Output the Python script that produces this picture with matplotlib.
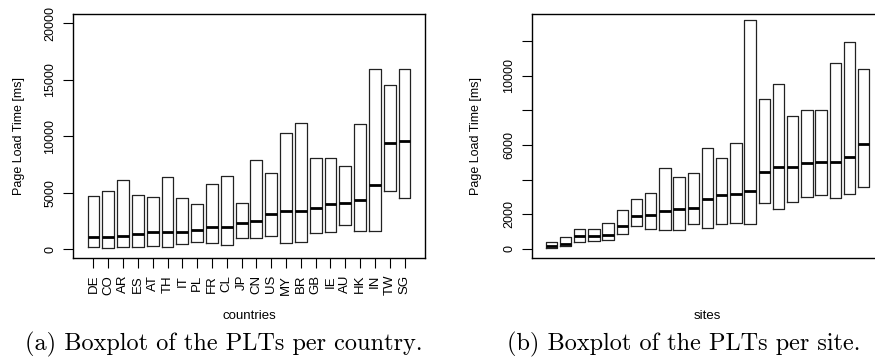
import matplotlib
matplotlib.use('Agg')
import matplotlib.pyplot as plt

# page load time boxes per country (q1, median, q3 in ms)
countries = ['DE', 'CO', 'AR', 'ES', 'AT', 'TH', 'IT', 'PL', 'FR', 'CL', 'JP',
             'CN', 'US', 'MY', 'BR', 'GB', 'IE', 'AU', 'HK', 'IN', 'TW', 'SG']
country_q1 = [240, 150, 240, 240, 325, 240, 443, 620, 560, 384, 1034,
              975, 1152, 560, 680, 1478, 1537, 2128, 1625, 1625, 5170, 4490]
country_med = [1064, 1090, 1210, 1360, 1507, 1507, 1566, 1684, 2010, 2010, 2335,
               2541, 3100, 3340, 3370, 3605, 4018, 4078, 4315, 5674, 9425, 9574]
country_q3 = [4725, 5170, 6090, 4815, 4610, 6383, 4520, 4018, 5762, 6442, 4107,
              7920, 6710, 10310, 11170, 8040, 8040, 7385, 11080, 15930, 14510, 15930]

# page load time boxes per site
site_q1 = [77, 154, 423, 481, 500, 885, 1327, 1134, 1115, 1077, 1442, 1230,
           1442, 1481, 1442, 2634, 2288, 2730, 2980, 3134, 2942, 3154, 3596]
site_med = [154, 288, 731, 769, 827, 1327, 1885, 1981, 2211, 2288, 2384, 2904,
            3096, 3154, 3365, 4423, 4730, 4730, 4961, 5000, 5038, 5288, 6057]
site_q3 = [386, 673, 1173, 1173, 1480, 2231, 2866, 3250, 4673, 4173, 4384, 5827,
           5269, 6134, 13210, 8654, 9538, 7654, 8000, 8000, 10712, 11923, 10365]

country_yticks = [0, 5000, 10000, 15000, 20000]
site_yticks = [0, 2000, 4000, 6000, 8000, 10000, 12000]
site_ytick_labels = ['0', '2000', '', '6000', '', '10000', '']

plt.rcParams['font.family'] = ['Liberation Sans', 'DejaVu Sans']


def make_stats(q1s, meds, q3s):
    return [dict(med=m, q1=a, q3=b, whislo=a, whishi=b, fliers=[])
            for a, m, b in zip(q1s, meds, q3s)]


def draw_boxes(ax, q1s, meds, q3s):
    ax.bxp(make_stats(q1s, meds, q3s), positions=range(1, len(meds) + 1),
           widths=0.8, showcaps=False, showfliers=False,
           boxprops=dict(color='#222222', linewidth=0.9),
           whiskerprops=dict(linewidth=0),
           medianprops=dict(color='black', linewidth=2.0))
    for s in ax.spines.values():
        s.set_linewidth(1.0)
    ax.tick_params(axis='both', length=7, width=0.8, labelsize=9, pad=5)
    ax.tick_params(axis='y', labelrotation=90)


fig = plt.figure(figsize=(8.75, 3.58), dpi=100)

# (a) per country
ax1 = fig.add_axes([73 / 875, 1 - 258.3 / 358, 352 / 875, 244.3 / 358])
draw_boxes(ax1, country_q1, country_med, country_q3)
ax1.set_xlim(-0.38, len(countries) + 1.38)
ax1.set_ylim(-800, 20800)
ax1.set_yticks(country_yticks)
ax1.set_yticklabels([str(v) for v in country_yticks])
for t in ax1.get_yticklabels():
    t.set_va('center')
ax1.set_xticks(range(1, len(countries) + 1))
ax1.set_xticklabels(countries, rotation=90, fontsize=9.5)
ax1.set_xlabel('countries', fontsize=9.5)
ax1.xaxis.set_label_coords(0.5, -0.235)
ax1.xaxis.label.set_va('center')
ax1.set_ylabel('Page Load Time [ms]', fontsize=9)
ax1.yaxis.set_label_coords((19 - 73) / 352, 0.5)
ax1.yaxis.label.set_va('center')

# (b) per site, right edge runs off the page as in the source
n_sites = len(site_med)
ax2 = fig.add_axes([531.7 / 875, 1 - 258.3 / 358, 351.6 / 875, 244.3 / 358])
draw_boxes(ax2, site_q1, site_med, site_q3)
ax2.set_xlim(-0.38, n_sites + 1.38)
ax2.set_ylim(-537, 13558)
ax2.set_xticks([])
ax2.set_yticks(site_yticks)
ax2.set_yticklabels(site_ytick_labels)
for t in ax2.get_yticklabels():
    t.set_va('center')
ax2.set_xlabel('sites', fontsize=9.5)
ax2.xaxis.set_label_coords(0.5, -0.235)
ax2.xaxis.label.set_va('center')
ax2.set_ylabel('Page Load Time [ms]', fontsize=9)
ax2.yaxis.set_label_coords((476 - 531.7) / 351.6, 0.5)
ax2.yaxis.label.set_va('center')

# captions
fig.text(223.5 / 875, 1 - 350 / 358, '(a) Boxplot of the PLTs per country.',
         family='cmr10', fontsize=17.5, ha='center', va='baseline')
fig.text(683.5 / 875, 1 - 350 / 358, '(b) Boxplot of the PLTs per site.',
         family='cmr10', fontsize=17.5, ha='center', va='baseline')

fig.savefig('out.png', dpi=100)
